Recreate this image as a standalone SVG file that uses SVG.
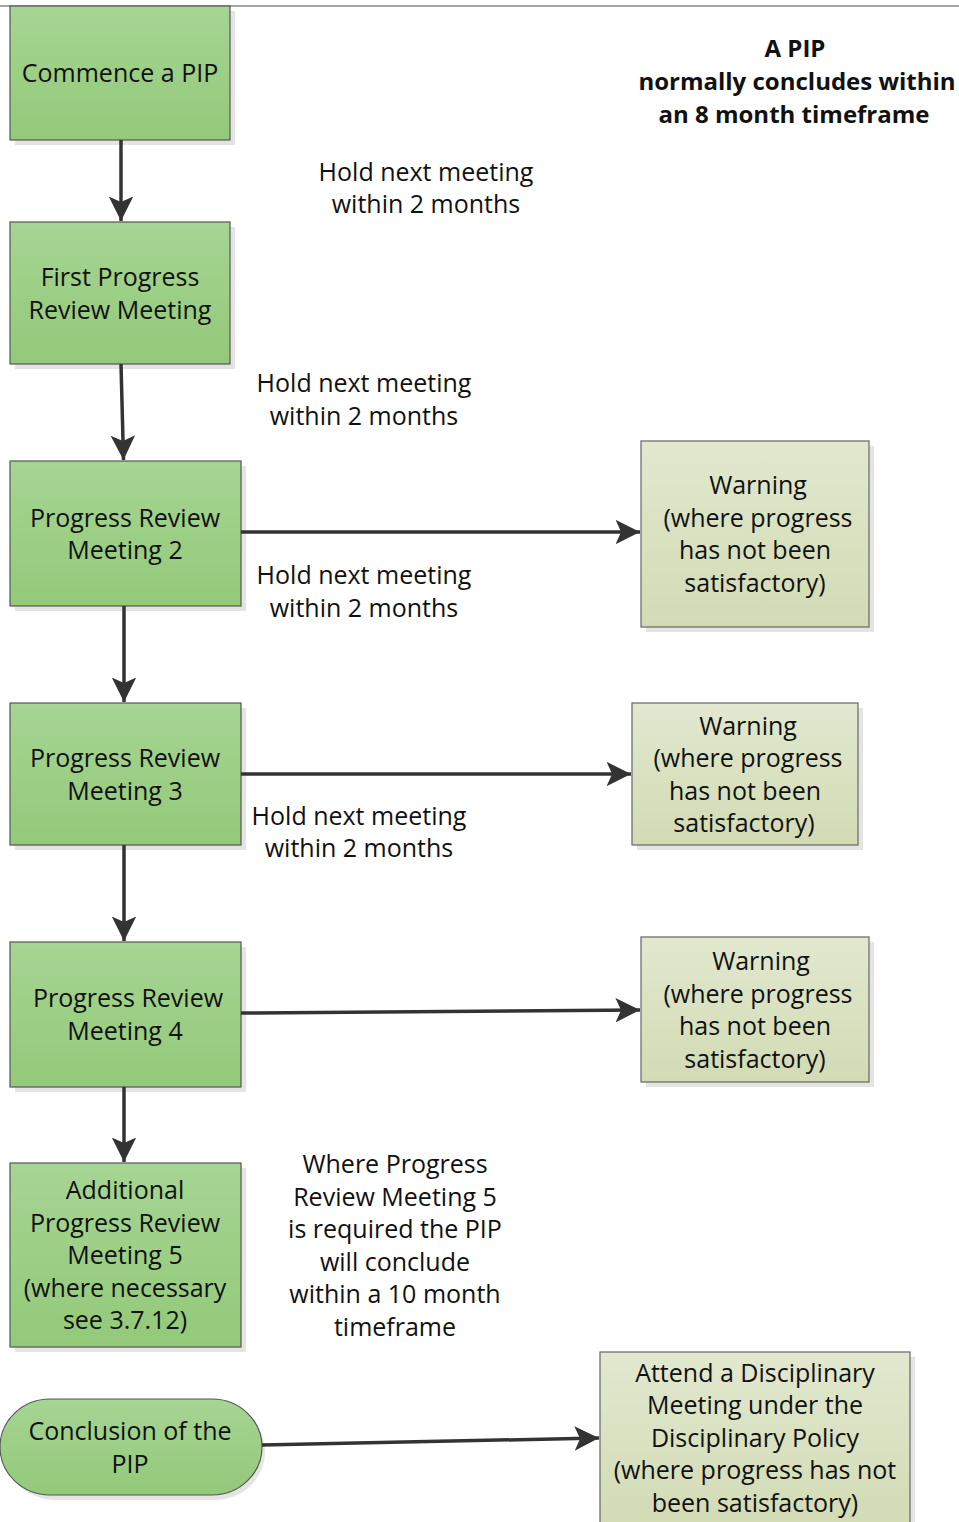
<svg xmlns="http://www.w3.org/2000/svg" width="959" height="1522" viewBox="0 0 959 1522">
<style>
text{font-family:"Open Sans","Liberation Sans",sans-serif;font-size:25px;fill:#111;text-anchor:middle}
.b{font-weight:bold;font-size:24px}
.g{fill:url(#gg);stroke:#555;stroke-width:1.2}
.w{fill:url(#gw);stroke:#666;stroke-width:1.2}
.sh{fill:#e4e4e4}
.c{stroke:#333;stroke-width:3.5;fill:none;marker-end:url(#ah)}
</style>
<defs>
<linearGradient id="gg" x1="0" y1="0" x2="0" y2="1"><stop offset="0" stop-color="#a6d593"/><stop offset="1" stop-color="#93c979"/></linearGradient>
<linearGradient id="gw" x1="0" y1="0" x2="0" y2="1"><stop offset="0" stop-color="#e1e8cf"/><stop offset="1" stop-color="#d2dbb4"/></linearGradient>
<marker id="ah" markerWidth="8" markerHeight="8" refX="7" refY="4" orient="auto" markerUnits="strokeWidth"><path d="M0,0.5 L7,4 L0,7.5 L1.6,4 Z" fill="#333"/></marker>
</defs>
<rect width="959" height="1522" fill="#fff"/>
<line x1="0" y1="6" x2="959" y2="6" stroke="#888" stroke-width="1.5"/>
<g id="note-top"><text class="b" x="795" y="57">A PIP</text><text class="b" x="797" y="90">normally concludes within</text><text class="b" x="794" y="123">an 8 month timeframe</text></g>
<g id="label1"><text x="426" y="181">Hold next meeting</text><text x="426" y="213">within 2 months</text></g>
<g id="label2"><text x="364" y="392">Hold next meeting</text><text x="364" y="425">within 2 months</text></g>
<g id="label3"><text x="364" y="584">Hold next meeting</text><text x="364" y="617">within 2 months</text></g>
<g id="label4"><text x="359" y="825">Hold next meeting</text><text x="359" y="857">within 2 months</text></g>
<g id="label5"><text x="395" y="1173">Where Progress</text><text x="395" y="1206">Review Meeting 5</text><text x="395" y="1238">is required the PIP</text><text x="395" y="1271">will conclude</text><text x="395" y="1303">within a 10 month</text><text x="395" y="1336">timeframe</text></g>
<g id="n1"><rect class="sh" x="15" y="11" width="220" height="134"/><rect class="g" x="10" y="6" width="220" height="134"/><text x="120" y="82">Commence a PIP</text></g>
<g id="n2"><rect class="sh" x="15" y="227" width="220" height="142"/><rect class="g" x="10" y="222" width="220" height="142"/><text x="120" y="286">First Progress</text><text x="120" y="319">Review Meeting</text></g>
<g id="n3"><rect class="sh" x="15" y="466" width="231" height="145"/><rect class="g" x="10" y="461" width="231" height="145"/><text x="125" y="527">Progress Review</text><text x="125" y="559">Meeting 2</text></g>
<g id="n4"><rect class="sh" x="15" y="708" width="231" height="142"/><rect class="g" x="10" y="703" width="231" height="142"/><text x="125" y="767">Progress Review</text><text x="125" y="800">Meeting 3</text></g>
<g id="n5"><rect class="sh" x="15" y="947" width="231" height="145"/><rect class="g" x="10" y="942" width="231" height="145"/><text x="128" y="1007">Progress Review</text><text x="125" y="1040">Meeting 4</text></g>
<g id="n6"><rect class="sh" x="15" y="1168" width="231" height="184"/><rect class="g" x="10" y="1163" width="231" height="184"/><text x="125" y="1199">Additional</text><text x="125" y="1232">Progress Review</text><text x="125" y="1264">Meeting 5</text><text x="125" y="1297">(where necessary</text><text x="125" y="1329">see 3.7.12)</text></g>
<g id="n7"><path class="sh" d="M55,1404 H215 A50,48 0 0 1 215,1500 H55 A50,48 0 0 1 55,1404 Z"/><path class="g" d="M50,1399 H212 A50,48 0 0 1 212,1495 H50 A50,48 0 0 1 50,1399 Z"/><text x="130" y="1440">Conclusion of the</text><text x="130" y="1473">PIP</text></g>
<g id="w1"><rect class="sh" x="646" y="446" width="228" height="186"/><rect class="w" x="641" y="441" width="228" height="186"/><text x="758" y="494">Warning</text><text x="758" y="527">(where progress</text><text x="755" y="559">has not been</text><text x="755" y="592">satisfactory)</text></g>
<g id="w2"><rect class="sh" x="637" y="708" width="226" height="142"/><rect class="w" x="632" y="703" width="226" height="142"/><text x="748" y="735">Warning</text><text x="748" y="767">(where progress</text><text x="745" y="800">has not been</text><text x="744" y="832">satisfactory)</text></g>
<g id="w3"><rect class="sh" x="646" y="942" width="228" height="145"/><rect class="w" x="641" y="937" width="228" height="145"/><text x="761" y="970">Warning</text><text x="758" y="1003">(where progress</text><text x="755" y="1035">has not been</text><text x="755" y="1068">satisfactory)</text></g>
<g id="n8"><rect class="sh" x="605" y="1357" width="310" height="170"/><rect class="w" x="600" y="1352" width="310" height="175"/><text x="755" y="1382">Attend a Disciplinary</text><text x="755" y="1414">Meeting under the</text><text x="755" y="1447">Disciplinary Policy</text><text x="755" y="1479">(where progress has not</text><text x="755" y="1512">been satisfactory)</text></g>
<g id="connectors">
<line class="c" x1="121" y1="140" x2="121" y2="221"/>
<line class="c" x1="121" y1="364" x2="123.5" y2="460"/>
<line class="c" x1="124" y1="606" x2="124" y2="702"/>
<line class="c" x1="124" y1="845" x2="124" y2="941"/>
<line class="c" x1="124" y1="1087" x2="124" y2="1162"/>
<line class="c" x1="241" y1="532" x2="640" y2="532"/>
<line class="c" x1="241" y1="774" x2="631" y2="774"/>
<line class="c" x1="241" y1="1013" x2="640" y2="1010"/>
<line class="c" x1="262" y1="1445" x2="599" y2="1438"/>
</g>
</svg>
